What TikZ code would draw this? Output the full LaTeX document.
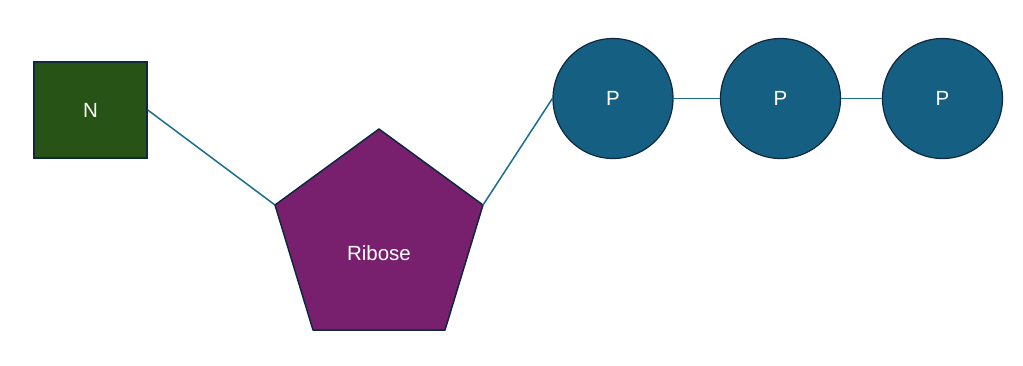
\documentclass[tikz,border=0pt]{standalone}
\usepackage{fontspec}
\setmainfont{Liberation Sans}
\definecolor{darkgreen}{HTML}{275317}
\definecolor{ribpurple}{HTML}{78206E}
\definecolor{pteal}{HTML}{156082}
\definecolor{linkteal}{HTML}{1A6C90}
\definecolor{edgeblue}{HTML}{0E2841}
\begin{document}
\begin{tikzpicture}[x=1pt,y=-1pt,
  lbl/.style={text=white,font=\fontsize{20.5}{24}\selectfont},
  sqbox/.style={draw=edgeblue,line width=1.5pt,fill=darkgreen,minimum width=113pt,minimum height=96pt,inner sep=0pt,lbl},
  pball/.style={draw=edgeblue,line width=1.2pt,fill=pteal,circle,minimum size=120pt,inner sep=0pt,lbl},
  link/.style={draw=linkteal,line width=1.5pt}]
\useasboundingbox (0,0) rectangle (1023,365);
\node[sqbox] (n) at (90.5,110) {N};
\coordinate (pt) at (379,129);
\coordinate (pl) at (275,205);
\coordinate (pr) at (483,205);
\coordinate (pbr) at (445,330);
\coordinate (pbl) at (313,330);
\draw[link] (n.east) -- (pl);
\draw[draw=edgeblue,line width=1.5pt,fill=ribpurple,line join=round] (pt) -- (pr) -- (pbr) -- (pbl) -- (pl) -- cycle;
\node[lbl] (rib) at (379,253) {Ribose};
\node[pball] (p1) at (613,98.5) {P};
\node[pball] (p2) at (780.5,98.5) {P};
\node[pball] (p3) at (942.5,98.5) {P};
\draw[link] (pr) -- (p1.west);
\draw[link] (p1) -- (p2);
\draw[link] (p2) -- (p3);
\end{tikzpicture}
\end{document}
